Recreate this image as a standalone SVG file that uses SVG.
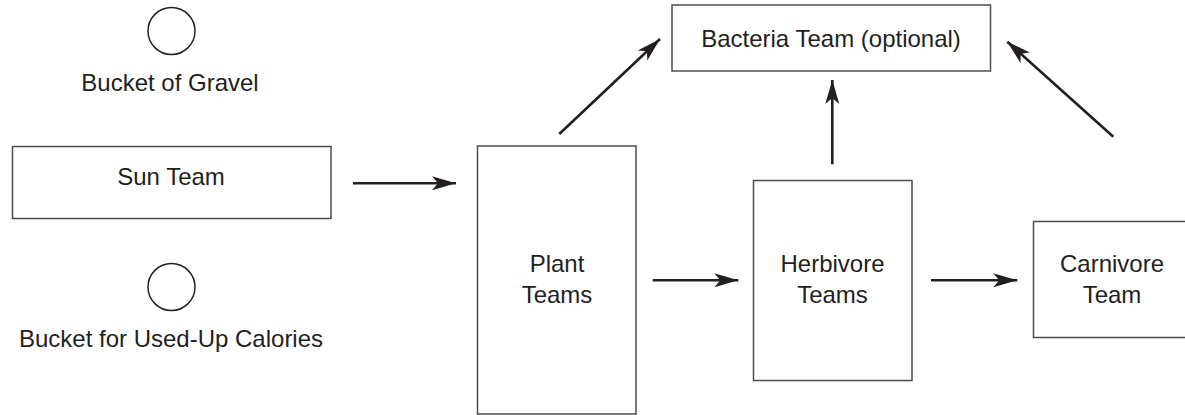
<svg xmlns="http://www.w3.org/2000/svg" width="1185" height="415" viewBox="0 0 1185 415">
<style>
.box{fill:#fff;stroke:#4d4d4d;stroke-width:1.5}
.bucket{fill:#fff;stroke:#231f20;stroke-width:1.5}
.lbl{font-family:"Liberation Sans",Arial,sans-serif;font-size:24px;fill:#231f20;text-anchor:middle}
.arr{stroke:#231f20;stroke-width:2.6;fill:none;marker-end:url(#ah)}
</style>
<defs>
<marker id="ah" markerUnits="userSpaceOnUse" markerWidth="30" markerHeight="20" viewBox="-26 -10 28 20" refX="0" refY="0" orient="auto">
<path d="M0,0 L-24,-7 L-18,0 L-24,7 Z" fill="#231f20"/>
</marker>
</defs>
<rect width="1185" height="415" fill="#fff"/>
<g id="bucket-gravel">
<circle class="bucket" cx="171.5" cy="31" r="23.5"/>
<text class="lbl" x="170" y="90.5">Bucket of Gravel</text>
</g>
<g id="bucket-calories">
<circle class="bucket" cx="171.5" cy="287" r="23.5"/>
<text class="lbl" x="171" y="346.5">Bucket for Used-Up Calories</text>
</g>
<g id="sun">
<rect class="box" x="12.5" y="146.5" width="318.5" height="72"/>
<text class="lbl" x="171" y="185">Sun Team</text>
</g>
<g id="plant">
<rect class="box" x="477.5" y="146" width="158.5" height="268"/>
<text class="lbl" x="557" y="272">Plant</text>
<text class="lbl" x="557" y="303">Teams</text>
</g>
<g id="herbivore">
<rect class="box" x="753.5" y="180.5" width="158.5" height="200"/>
<text class="lbl" x="832.5" y="272">Herbivore</text>
<text class="lbl" x="832.5" y="303">Teams</text>
</g>
<g id="carnivore">
<rect class="box" x="1033.5" y="221.5" width="158" height="116"/>
<text class="lbl" x="1112" y="272">Carnivore</text>
<text class="lbl" x="1112" y="303">Team</text>
</g>
<g id="bacteria">
<rect class="box" x="672" y="5" width="318.5" height="66"/>
<text class="lbl" x="831" y="47">Bacteria Team (optional)</text>
</g>
<g id="connectors">
<line class="arr" x1="353" y1="183.3" x2="456" y2="183.3"/>
<line class="arr" x1="559.3" y1="134" x2="660" y2="39"/>
<line class="arr" x1="832.3" y1="164.3" x2="832.3" y2="80"/>
<line class="arr" x1="1113.3" y1="136.7" x2="1007.3" y2="41.7"/>
<line class="arr" x1="652.7" y1="280.3" x2="738.3" y2="280.3"/>
<line class="arr" x1="931" y1="280.3" x2="1017.3" y2="280.3"/>
</g>
</svg>
